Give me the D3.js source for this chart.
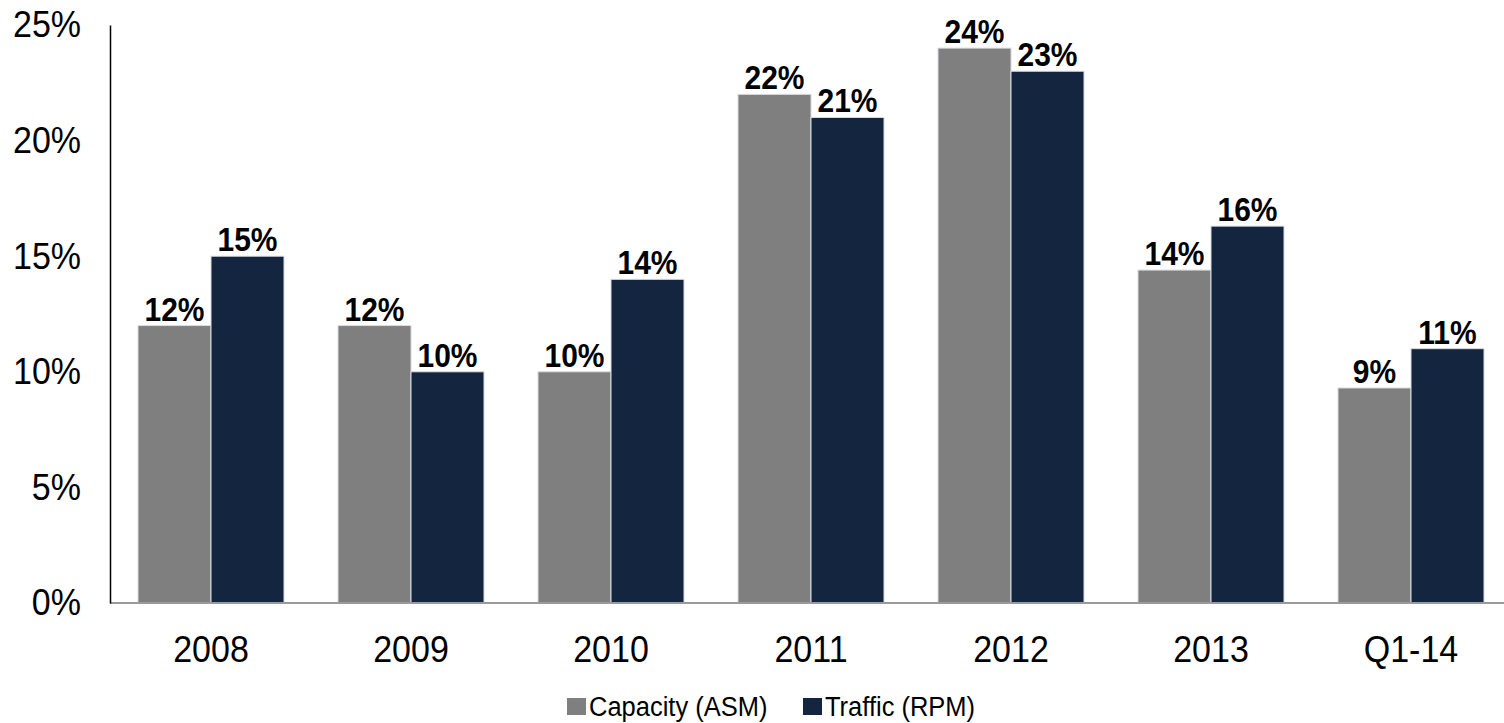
<!DOCTYPE html>
<html>
<head>
<meta charset="utf-8">
<script src="https://cdn.jsdelivr.net/npm/d3@7"></script>
<style>
  html, body { margin: 0; padding: 0; background: #fff; }
  svg { display: block; font-family: "Liberation Sans", Arial, sans-serif; }
</style>
</head>
<body>
<svg id="chart" width="1504" height="723"></svg>
<script>
// Year-over-year growth, capacity vs. traffic
const categories = ["2008", "2009", "2010", "2011", "2012", "2013", "Q1-14"];
const seriesNames = ["Capacity (ASM)", "Traffic (RPM)"];
const capacity = [12.0, 12.0, 10.0, 22.0, 24.0, 14.4, 9.3];
const traffic  = [15.0, 10.0, 14.0, 21.0, 23.0, 16.3, 11.0];
const yTicks = [0, 5, 10, 15, 20, 25];
const colors = ["#7f7f7f", "#13253f"];

const W = 1504, H = 723;
const TALL = 1.09; // slight vertical stretch of all lettering
const svg = d3.select("#chart");

const x0 = d3.scaleBand()
  .domain(categories)
  .range([111, 1511])
  .paddingInner(0.27)
  .paddingOuter(0.135);

const x1 = d3.scaleBand()
  .domain(seriesNames)
  .range([0, x0.bandwidth()]);

const y = d3.scaleLinear()
  .domain([0, 25])
  .range([603, 25]);

const rows = categories.map((c, i) => ({
  cat: c,
  vals: [capacity[i], traffic[i]].map((v, j) => ({ name: seriesNames[j], v, j }))
}));

// Bars
const groups = svg.append("g").selectAll("g")
  .data(rows).join("g")
  .attr("transform", d => `translate(${x0(d.cat)},0)`);

groups.selectAll("rect")
  .data(d => d.vals).join("rect")
  .attr("x", d => x1(d.name))
  .attr("y", d => y(d.v))
  .attr("width", x1.bandwidth())
  .attr("height", d => y(0) - y(d.v))
  .attr("fill", d => colors[d.j])
  .attr("stroke", "#d9dbe0")
  .attr("stroke-width", 1);

// Value labels
groups.selectAll("text")
  .data(d => d.vals).join("text")
  .attr("transform", d => `translate(${x1(d.name) + x1.bandwidth() / 2},${y(d.v) - 5}) scale(1,${TALL})`)
  .attr("text-anchor", "middle")
  .attr("font-weight", "bold")
  .attr("font-size", 30)
  .attr("fill", "#000")
  .text(d => d3.format(".0f")(d.v) + "%");

// Baseline
svg.append("line")
  .attr("x1", 110).attr("x2", W)
  .attr("y1", y(0)).attr("y2", y(0))
  .attr("stroke", "#9a9a9a").attr("stroke-width", 2);

// Y axis
const yAxis = svg.append("g")
  .attr("transform", "translate(110,0)")
  .call(d3.axisLeft(y).tickValues(yTicks).tickSize(0).tickPadding(29)
    .tickFormat(d => d + "%"));
yAxis.select(".domain").attr("stroke", "#000").attr("stroke-width", 1.5);
yAxis.selectAll("text")
  .attr("font-size", 34)
  .attr("font-family", "Liberation Sans, Arial, sans-serif")
  .attr("fill", "#000")
  .attr("transform", `scale(1,${TALL})`);

// X axis labels
const xAxis = svg.append("g")
  .attr("transform", `translate(0,${y(0)})`)
  .call(d3.axisBottom(x0).tickSize(0).tickPadding(30));
xAxis.select(".domain").remove();
xAxis.selectAll("text")
  .attr("font-size", 34)
  .attr("font-family", "Liberation Sans, Arial, sans-serif")
  .attr("fill", "#000")
  .attr("transform", `scale(1,${TALL})`);

// Legend
const legendItems = [
  { name: seriesNames[0], color: colors[0], x: 567 },
  { name: seriesNames[1], color: colors[1], x: 803 }
];
const lg = svg.append("g").selectAll("g")
  .data(legendItems).join("g")
  .attr("transform", d => `translate(${d.x},698)`);
lg.append("rect")
  .attr("width", 19).attr("height", 17)
  .attr("fill", d => d.color);
lg.append("text")
  .attr("transform", `translate(22,18) scale(1,${TALL})`)
  .attr("font-size", 25.5)
  .attr("fill", "#000")
  .text(d => d.name);
</script>
</body>
</html>
